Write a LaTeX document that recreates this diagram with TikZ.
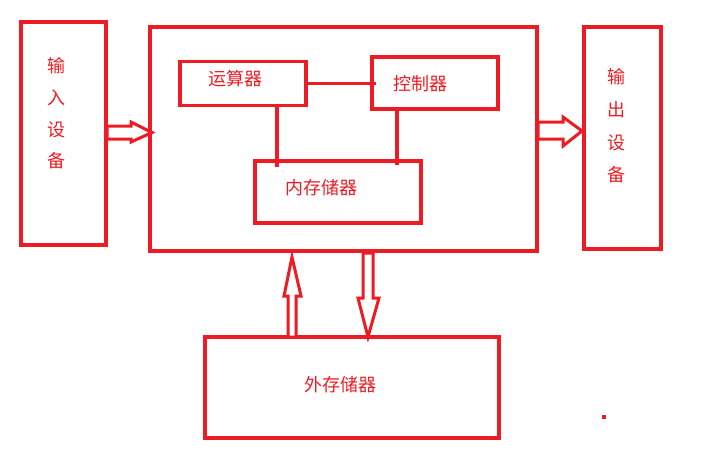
\documentclass[tikz,border=0pt]{standalone}
\usepackage{fontspec}
\newfontfamily\cjk{Noto Sans CJK SC}
\definecolor{pred}{HTML}{ED1C24}
\begin{document}
\begin{tikzpicture}[x=1pt,y=-1pt,
  box/.style={draw=pred,line width=3.2pt,rectangle,inner sep=0pt},
  lbl/.style={text=pred,font=\cjk\fontsize{18}{22}\selectfont,inner sep=0pt},
  conn/.style={draw=pred,line width=3.2pt},
  blockarrow/.style={draw=pred,line width=3pt,line join=miter,fill=white}]
\useasboundingbox (0,0) rectangle (701,467);
% boxes
\node[box,minimum width=85,minimum height=223] (in) at (63.5,133.5) {};
\node[box,minimum width=387,minimum height=224] (cpu) at (343.5,139) {};
\node[box,minimum width=126,minimum height=44] (alu) at (243,83.5) {};
\node[box,minimum width=126,minimum height=52] (ctl) at (435,83) {};
\node[box,minimum width=166,minimum height=62] (mem) at (338,192) {};
\node[box,minimum width=77,minimum height=222] (out) at (622.5,138) {};
\node[box,minimum width=294,minimum height=101] (ext) at (352,387.5) {};
% labels
\node[lbl] (altxt) at (235,79) {运算器};
\node[lbl] (cttxt) at (420,84) {控制器};
\node[lbl] (metxt) at (321,188) {内存储器};
\node[lbl] (extxt) at (340,385) {外存储器};
\node[lbl] (i1) at (56,66) {输};
\node[lbl] (i2) at (56,98) {入};
\node[lbl] (i3) at (56,130) {设};
\node[lbl] (i4) at (56,161) {备};
\node[lbl] (o1) at (616,77) {输};
\node[lbl] (o2) at (616,110) {出};
\node[lbl] (o3) at (616,143) {设};
\node[lbl] (o4) at (616,175) {备};
% connectors inside CPU
\draw[conn] (alu.east) -- ([xshift=6]ctl.west |- alu.east);
\draw[conn] ([xshift=34]alu.south) -- ([xshift=34,yshift=-8]alu.south |- mem.north);
\draw[conn] ([xshift=-38]ctl.south) -- ([xshift=-38,yshift=-6]ctl.south |- mem.north);
% block arrows
\draw[blockarrow] (107,126) -- (131,126) -- (131,122) -- (152,132.5) -- (131,142) -- (131,139) -- (107,139) -- cycle;
\draw[blockarrow] (538,122) -- (563,122) -- (563,117) -- (582,131) -- (563,146) -- (563,139) -- (538,139) -- cycle;
\draw[blockarrow] (288,337) -- (288,296) -- (284,296) -- (292,257) -- (301,296) -- (296,296) -- (296,337) -- cycle;
\draw[blockarrow] (363,253) -- (373,253) -- (373,298) -- (379,298) -- (368,337) -- (358,298) -- (363,298) -- cycle;
% stray dot
\fill[pred] (602,415) rectangle (606,418.5);
\end{tikzpicture}
\end{document}
